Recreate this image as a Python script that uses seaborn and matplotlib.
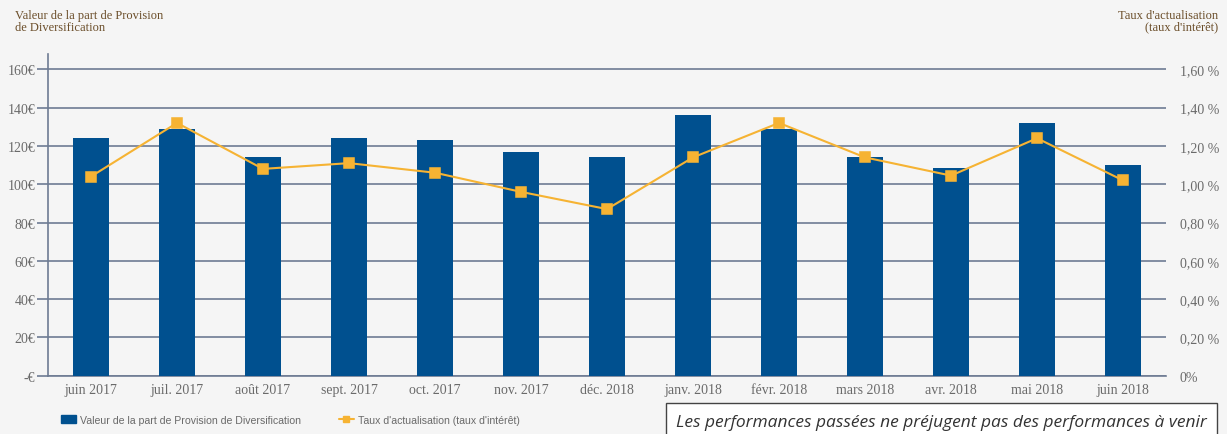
import pandas as pd
import matplotlib
matplotlib.use("Agg")
import matplotlib.pyplot as plt
import seaborn as sns
from matplotlib.patches import Patch
from matplotlib.lines import Line2D
from matplotlib.ticker import FixedLocator

# data
months = ["juin 2017", "juil. 2017", "août 2017", "sept. 2017", "oct. 2017", "nov. 2017",
          "déc. 2018", "janv. 2018", "févr. 2018", "mars 2018", "avr. 2018", "mai 2018", "juin 2018"]
valeur = [124, 129, 114, 124, 123, 117, 114, 136, 129, 114, 108.5, 132, 110]
taux = [1.04, 1.32, 1.08, 1.11, 1.06, 0.96, 0.87, 1.14, 1.32, 1.14, 1.045, 1.24, 1.02]

left_ticks = [0, 20, 40, 60, 80, 100, 120, 140, 160]
left_labels = ["-€", "20€", "40€", "60€", "80€", "100€", "120€", "140€", "160€"]
right_ticks = [0, 0.2, 0.4, 0.6, 0.8, 1.0, 1.2, 1.4, 1.6]
right_labels = ["0%", "0,20 %", "0,40 %", "0,60 %", "0,80 %", "1,00 %", "1,20 %", "1,40 %", "1,60 %"]

df = pd.DataFrame({"mois": months, "valeur": valeur, "taux": taux})

blue = "#00508f"
orange = "#f6b333"
grid_col = "#6e7b93"
brown = "#6b4e2a"
grey = "#6a6a6a"
bg = "#f5f5f5"

sns.set_style("white")
plt.rcParams["font.family"] = ["Liberation Serif", "DejaVu Serif"]

fig = plt.figure(figsize=(12.27, 4.35), dpi=100, facecolor=bg)
ax = fig.add_axes([0.0391, 0.134, 0.9112, 0.7396])
ax.set_facecolor(bg)

sns.barplot(data=df, x="mois", y="valeur", color=blue, width=0.41, saturation=1,
            linewidth=0, ax=ax, zorder=3)
ax.set_ylim(0, 168)
ax.set_xlim(-0.5, 12.5)
ax.set_yticks(left_ticks)
ax.set_yticklabels(left_labels, fontsize=10, color=grey)
ax.yaxis.grid(True, color=grid_col, linewidth=1.2, zorder=0)
ax.set_axisbelow(True)
ax.tick_params(axis="y", length=8, color=grid_col, pad=1, width=1.2)
ax.set_xlabel("")
ax.set_ylabel("")
ax.tick_params(axis="x", which="major", length=0, labelsize=10, labelcolor=grey, pad=5)
ax.xaxis.set_minor_locator(FixedLocator([i - 0.5 for i in range(14)]))
ax.tick_params(axis="x", which="minor", length=7, color=grid_col, width=1.2)
for s in ["top", "right"]:
    ax.spines[s].set_visible(False)
ax.spines["left"].set_color(grid_col)
ax.spines["bottom"].set_color(grid_col)
ax.spines["left"].set_linewidth(1.2)
ax.spines["bottom"].set_linewidth(1.2)

ax2 = ax.twinx()
sns.pointplot(data=df, x="mois", y="taux", color=orange, markers="s", errorbar=None,
              linewidth=1.5, markersize=6.5, ax=ax2)
ax2.set_ylim(0, 1.68)
ax2.set_yticks(right_ticks)
ax2.set_yticklabels(right_labels, fontsize=10, color=grey)
ax2.tick_params(axis="y", length=0, pad=10)
ax2.set_ylabel("")
ax2.set_xlabel("")
for s in ax2.spines.values():
    s.set_visible(False)
ax2.set_xlim(-0.5, 12.5)

fig.text(0.012, 0.977, "Valeur de la part de Provision\nde Diversification", fontsize=9,
         color=brown, va="top", ha="left", linespacing=0.95)
fig.text(0.993, 0.977, "Taux d'actualisation\n(taux d'intérêt)", fontsize=9,
         color=brown, va="top", ha="right", multialignment="right", linespacing=0.95)

handles = [Patch(facecolor=blue, edgecolor=blue),
           Line2D([0], [0], color=orange, marker="s", markersize=5, linewidth=1.5)]
leg = fig.legend(handles, ["Valeur de la part de Provision de Diversification",
                           "Taux d'actualisation (taux d'intérêt)"],
                 loc="center left", bbox_to_anchor=(0.042, 0.033), ncol=2, frameon=False,
                 prop={"family": ["Liberation Sans Narrow", "Liberation Sans"], "size": 7.6},
                 handlelength=1.4, handleheight=0.9, handletextpad=0.4, columnspacing=3.6)
for t in leg.get_texts():
    t.set_color(grey)

fig.text(0.551, 0.028, "Les performances passées ne préjugent pas des performances à venir",
         fontsize=12.5, family=["Open Sans", "DejaVu Sans"], style="italic", color="#333333",
         va="center", ha="left",
         bbox=dict(boxstyle="square,pad=0.6", facecolor="white", edgecolor="#444444", linewidth=1))

fig.savefig("out.png", dpi=100, facecolor=bg)
